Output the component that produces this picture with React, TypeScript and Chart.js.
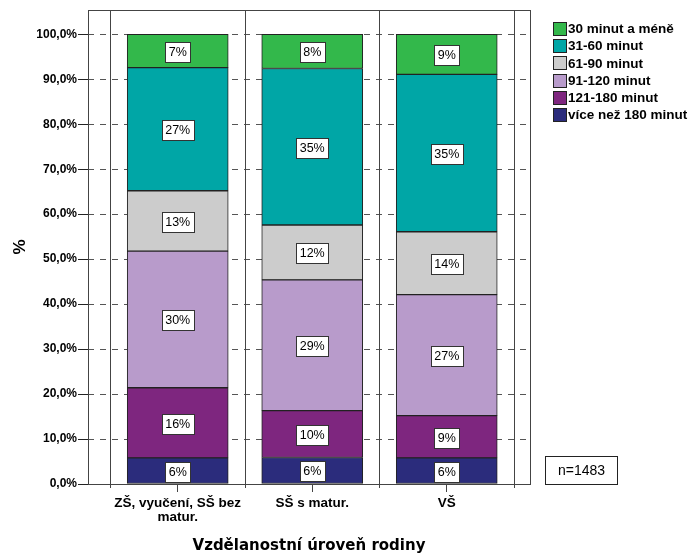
import { useEffect, useRef } from 'react';
import { Chart, registerables } from 'chart.js';

Chart.register(...registerables);

// ---- data ----
const categories: (string | string[])[] = [['ZŠ, vyučení, SŠ bez', 'matur.'], 'SŠ s matur.', 'VŠ'];
const seriesLabels = ['více než 180 minut', '121-180 minut', '91-120 minut', '61-90 minut', '31-60 minut', '30 minut a méně'];
const over180 = [5.8, 5.9, 5.8];
const min121to180 = [15.6, 10.4, 9.4];
const min91to120 = [30.4, 29.1, 26.9];
const min61to90 = [13.4, 12.2, 14.0];
const min31to60 = [27.4, 34.8, 35.0];
const upTo30 = [7.4, 7.6, 8.9];
const seriesValues = [over180, min121to180, min91to120, min61to90, min31to60, upTo30];
const seriesColors = ['#2B2C7C', '#7E267F', '#B89BCB', '#CCCCCC', '#00A6A6', '#33B84B'];
const yTickValues = [0, 10, 20, 30, 40, 50, 60, 70, 80, 90, 100];
const sampleNote = 'n=1483';
const xTitle = 'Vzdělanostní úroveň rodiny';
const yTitle = '%';

const framePlugin = {
  id: 'frame',
  beforeDatasetsDraw(chart: any) {
    const { ctx, chartArea: a, scales } = chart;
    const x = scales.x;
    ctx.save();
    ctx.strokeStyle = '#444';
    ctx.lineWidth = 1;
    for (let i = 0; i <= categories.length; i++) {
      const px = Math.round(x.getPixelForValue(i - 0.5)) + 0.5;
      ctx.beginPath();
      ctx.moveTo(px, a.top);
      ctx.lineTo(px, a.bottom + 4);
      ctx.stroke();
    }
    ctx.strokeRect(Math.round(a.left) + 0.5, Math.round(a.top) + 0.5, Math.round(a.right - a.left), Math.round(a.bottom - a.top));
    ctx.restore();
  },
};

const labelPlugin = {
  id: 'segLabels',
  afterDatasetsDraw(chart: any) {
    const { ctx } = chart;
    ctx.save();
    ctx.font = '12.5px Arial, "Liberation Sans", sans-serif';
    ctx.textAlign = 'center';
    ctx.textBaseline = 'middle';
    chart.data.datasets.forEach((ds: any, di: number) => {
      const meta = chart.getDatasetMeta(di);
      meta.data.forEach((bar: any, i: number) => {
        const v = ds.data[i].y;
        const c = bar.getCenterPoint();
        const text = Math.round(v) + '%';
        const w = Math.round(ctx.measureText(text).width + 7);
        const h = 20;
        const bx = Math.round(c.x - w / 2) + 0.5;
        const by = Math.round(c.y + 1 - h / 2) + 0.5;
        ctx.fillStyle = '#fff';
        ctx.fillRect(bx, by, w, h);
        ctx.strokeStyle = '#333';
        ctx.lineWidth = 1;
        ctx.strokeRect(bx, by, w, h);
        ctx.fillStyle = '#000';
        ctx.fillText(text, c.x, c.y + 1.5);
      });
    });
    ctx.restore();
  },
};

const legendPlugin = {
  id: 'customLegend',
  afterDraw(chart: any) {
    const { ctx, chartArea: a } = chart;
    ctx.save();
    ctx.font = 'bold 13.5px Arial, "Liberation Sans", sans-serif';
    ctx.textAlign = 'left';
    ctx.textBaseline = 'middle';
    const items = chart.data.datasets.slice().reverse();
    items.forEach((ds: any, k: number) => {
      const cy = a.top + 19 + k * 17.2;
      const bx = Math.round(a.right + 23) + 0.5;
      const by = Math.round(cy - 7) + 0.5;
      ctx.fillStyle = ds.backgroundColor;
      ctx.fillRect(bx, by, 13, 13);
      ctx.strokeStyle = '#222';
      ctx.lineWidth = 1;
      ctx.strokeRect(bx, by, 13, 13);
      ctx.fillStyle = '#000';
      ctx.fillText(ds.label, a.right + 38, cy + 0.5);
    });
    // sample size box
    const nx = Math.round(a.right + 15) + 0.5;
    const ny = Math.round(a.bottom - 28) + 0.5;
    ctx.strokeStyle = '#222';
    ctx.strokeRect(nx, ny, 72, 28);
    ctx.font = '14px Arial, "Liberation Sans", sans-serif';
    ctx.textAlign = 'center';
    ctx.fillText(sampleNote, nx + 36, ny + 14.5);
    ctx.restore();
  },
};

export default function App() {
  const ref = useRef<HTMLCanvasElement | null>(null);
  useEffect(() => {
    if (!ref.current) return;
    const chart = new Chart(ref.current, {
      type: 'bar',
      data: {
        datasets: seriesLabels.map((label, si) => ({
          label,
          data: seriesValues[si].map((v, i) => ({ x: i, y: v })),
          backgroundColor: seriesColors[si],
          borderColor: '#222',
          borderWidth: 1,
          borderSkipped: false,
          barThickness: 101,
        })),
      },
      options: {
        animation: false,
        responsive: false,
        devicePixelRatio: 1,
        layout: { padding: { left: 0, top: 10, right: 163, bottom: 0 } },
        plugins: {
          legend: { display: false },
          tooltip: { enabled: false },
        },
        scales: {
          x: {
            type: 'linear',
            stacked: true,
            offset: false,
            min: -0.667,
            max: 2.619,
            afterBuildTicks: (s: any) => {
              s.ticks = categories.map((_, i) => ({ value: i }));
            },
            afterFit: (s: any) => {
              s.height = 71;
            },
            ticks: {
              callback: (v: any) => categories[v as number],
              font: { family: 'Arial, "Liberation Sans", sans-serif', weight: 'bold', size: 13.5, lineHeight: 1.0 },
              color: '#000',
              padding: 5,
              maxRotation: 0,
              autoSkip: false,
            },
            grid: { offset: false, drawOnChartArea: false, tickLength: 8, tickColor: '#444', color: '#444' },
            border: { display: false },
            title: {
              display: true,
              text: xTitle,
              font: { family: '"DejaVu Sans", sans-serif', weight: 'bold', size: 15 },
              color: '#000',
              padding: { top: 0, bottom: 0 },
            },
          },
          y: {
            stacked: true,
            min: 0,
            max: 105.4,
            afterBuildTicks: (s: any) => {
              s.ticks = yTickValues.map((v) => ({ value: v }));
            },
            afterFit: (s: any) => {
              s.width = 88;
            },
            ticks: {
              callback: (v: any) => Number(v).toFixed(1).replace('.', ',') + '%',
              font: { family: 'Arial, "Liberation Sans", sans-serif', weight: 'bold', size: 12 },
              color: '#000',
              padding: 1,
            },
            grid: { color: '#555', tickColor: '#222', tickLength: 10, tickBorderDash: [] },
            border: { display: false, dash: [6, 6] },
            title: {
              display: true,
              text: yTitle,
              font: { family: 'Arial, "Liberation Sans", sans-serif', weight: 'bold', size: 17 },
              color: '#000',
              padding: { top: 10, bottom: 0 },
            },
          },
        },
      },
      plugins: [framePlugin, labelPlugin, legendPlugin],
    } as any);
    return () => chart.destroy();
  }, []);
  return (
    <div style={{ position: 'absolute', left: 0, top: 0, width: 693, height: 555, background: '#fff' }}>
      <canvas ref={ref} width={693} height={555} style={{ display: 'block' }} />
    </div>
  );
}
